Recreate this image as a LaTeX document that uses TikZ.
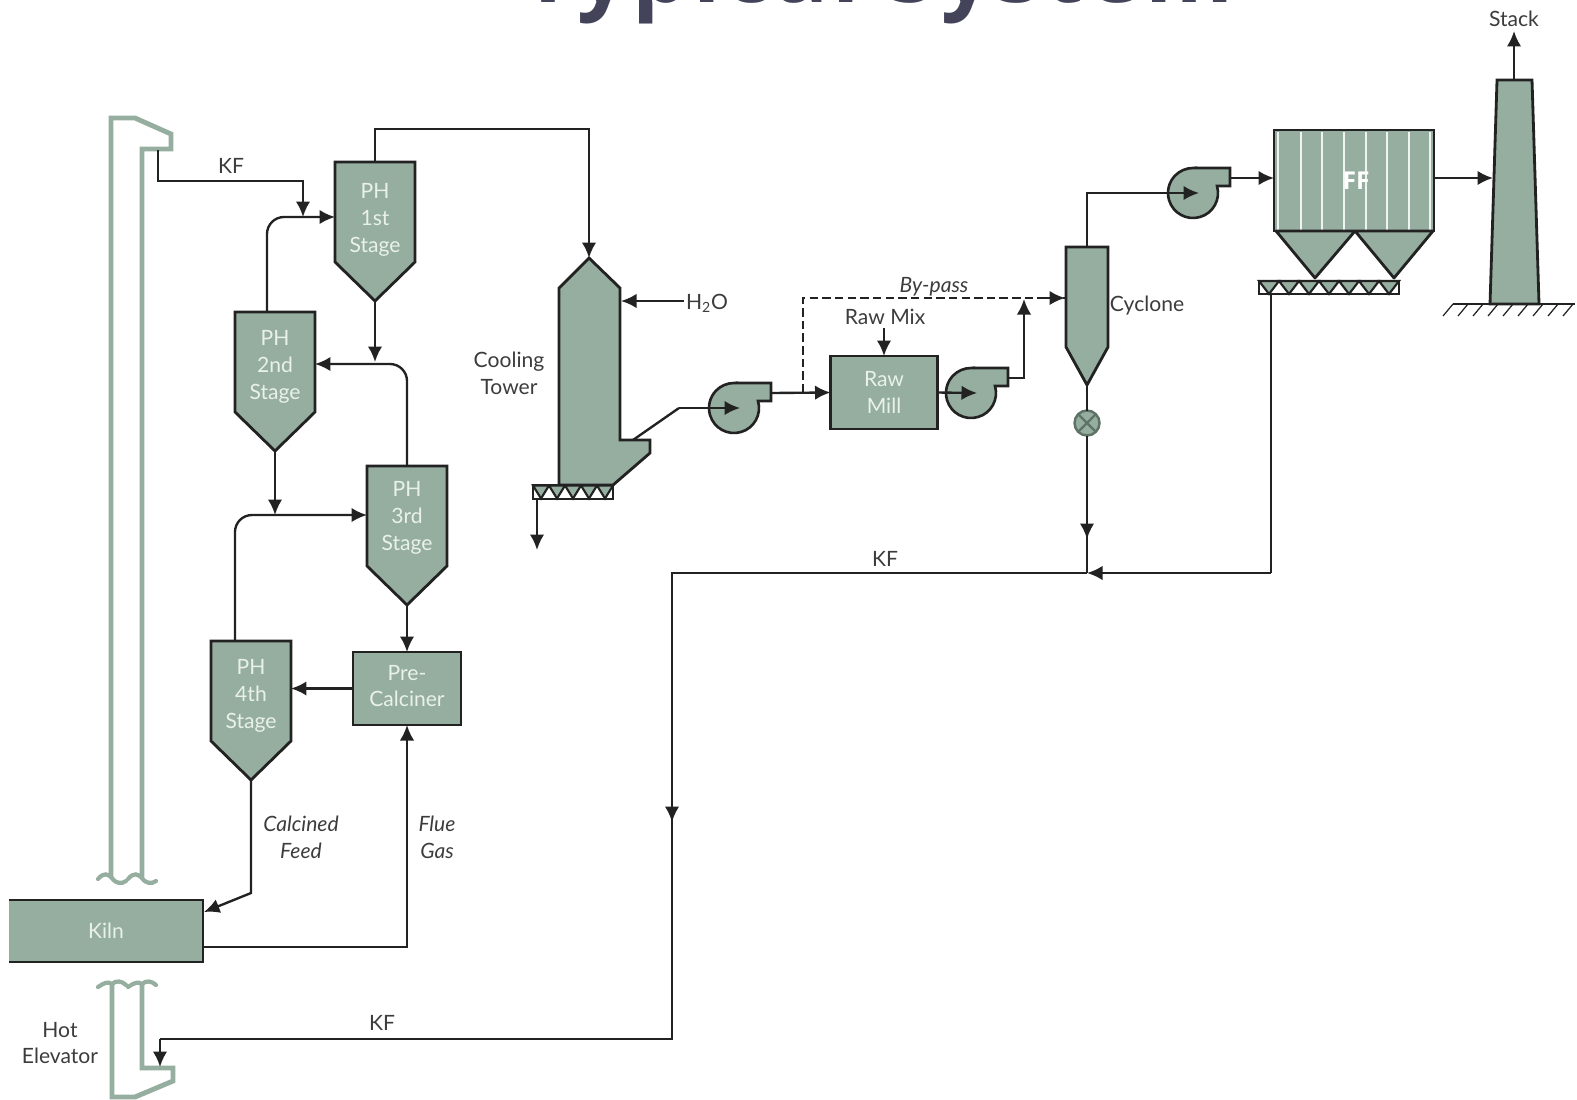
\documentclass[tikz,border=0pt]{standalone}
\usepackage{fontspec}
\setmainfont{Lato}
\newfontfamily\titlefont[LetterSpace=4.6]{Open Sans}
\newfontfamily\fflabelfont{Open Sans}
\usepackage{xcolor}
\usepackage{tikz}
\usetikzlibrary{arrows.meta,positioning,calc}
\definecolor{unitgreen}{HTML}{95AE9F}
\definecolor{linedark}{HTML}{222222}
\definecolor{valveedge}{HTML}{5F7268}
\definecolor{titleink}{HTML}{43445A}
\definecolor{labelink}{HTML}{3C3C3C}
\definecolor{unittext}{HTML}{E9F1EA}
\tikzset{
  flow/.style={line width=1.35pt,draw=linedark},
  unit/.style={line width=1.6pt,draw=linedark,fill=unitgreen,line join=miter},
  duct/.style={line width=2.8pt,draw=unitgreen,line join=miter},
  curl/.style={line width=2.4pt,draw=unitgreen,line cap=round},
  lbl/.style={text=labelink,align=center,font=\fontsize{12}{15.3}\selectfont,inner sep=0pt},
  unittxt/.style={text=unittext,align=center,font=\fontsize{12}{15.3}\selectfont,inner sep=0pt},
  hopbox/.style={minimum width=1.6cm,inner sep=0pt,outer sep=0pt},
  boxunit/.style={unit,unittxt,outer sep=0pt},
  screw/.style={line width=1.4pt,draw=linedark,fill=white,inner sep=0pt,outer sep=0pt},
  pics/fan/.style={code={
    \draw[unit,line width=1.5pt] (0,-25) -- (37,-25) -- (37,-7) -- (24,-7)
      arc[start angle=-16.26,end angle=270,radius=25] -- cycle;
    \coordinate (-hub) at (6,0);
    \coordinate (-out) at (37,-15);
  }},
}
% name, centre x, top y, half height of the node, text
\newcommand{\hopper}[5]{
  \draw[unit] (#2-40,#3) -- (#2+40,#3) -- (#2+40,#3+100) -- (#2,#3+139) -- (#2-40,#3+100) -- cycle;
  \node[hopbox,minimum height=#4*0.04cm,label={[unittxt,yshift=-0.06cm]center:{#5}}] (#1) at (#2,#3+#4) {};
  \coordinate (#1tip) at (#2,#3+139);
}
% name, centre x, centre y, width, teeth
\newcommand{\conveyor}[5]{
  \node[screw,minimum width=#4*0.02cm,minimum height=0.27cm] (#1) at (#2,#3) {};
  \foreach \k in {1,...,#5}{
    \draw[line width=1.2pt,draw=linedark,fill=unitgreen]
      (#2-#4/2+#4/#5*\k-#4/#5,#3-6.5) -- (#2-#4/2+#4/#5*\k-#4/#5/2,#3+6.5) -- (#2-#4/2+#4/#5*\k,#3-6.5) -- cycle;
  }
}
\begin{document}
\begin{tikzpicture}[>={Latex[length=3.1mm,width=2.9mm]},x=0.02cm,y=-0.02cm]
  \path[use as bounding box,clip] (0,0) rectangle (1577,1099);
  \node[anchor=base,text=titleink,inner sep=0pt,font=\titlefont\bfseries\fontsize{51}{51}\selectfont] (title) at (878,2) {Typical System};

  % hot elevator
  \draw[duct] (111,877) -- (111,118) -- (135,118) -- (171,134) -- (171,149) -- (142,149) -- (142,877);
  \draw[duct] (112,984) -- (112,1097) -- (135,1097) -- (173,1081) -- (173,1068) -- (142,1068) -- (142,984);
  \draw[curl] (98,879) .. controls (104,872) and (108,874) .. (112,878) .. controls (116,884) and (122,884) .. (126,881);
  \draw[curl] (128,879) .. controls (134,872) and (138,874) .. (142,878) .. controls (146,884) and (152,884) .. (156,881);
  \draw[curl] (98,987) .. controls (104,983) and (108,981) .. (112,984) .. controls (116,980) and (122,981) .. (126,985);
  \draw[curl] (128,987) .. controls (134,983) and (138,981) .. (142,984) .. controls (146,980) and (152,981) .. (156,985);
  \coordinate (elevtop) at (158,150);
  \coordinate (elevbot) at (160,1067);

  \hopper{ph1}{375}{162}{55}{PH\\1st\\Stage}
  \hopper{ph2}{275}{312}{52}{PH\\2nd\\Stage}
  \hopper{ph3}{407}{466}{49}{PH\\3rd\\Stage}
  \hopper{ph4}{251}{641}{52}{PH\\4th\\Stage}
  \node[boxunit,minimum width=2.16cm,minimum height=1.46cm] (precalc) at (407,688.5) {};
  \node[unittxt] (precalctxt) at (407,686) {Pre-\\Calciner};
  \node[fill=unitgreen,minimum width=3.88cm,minimum height=1.24cm,unittxt,outer sep=0pt] (kiln) at (106,931) {Kiln};
  \draw[unit,fill=none] (kiln.north west) -- (kiln.north east) -- (kiln.south east) -- (kiln.south west);

  % cooling tower
  \draw[unit] (559,485) -- (559,288) -- (589,258) -- (620,288) -- (620,440) -- (650,440) -- (650,453) -- (613,485) -- cycle;
  \conveyor{convtower}{573}{492}{80}{5}
  \coordinate (towertop) at (589,258);
  \coordinate (towerside) at (621,301);
  \coordinate (towerout) at (633,440);
  \coordinate (towerbend) at (679,408);

  \pic (fana) at (734,408) {fan};
  \pic (fanb) at (971,393) {fan};
  \pic (fanc) at (1193,193) {fan};
  \node[boxunit,minimum width=2.14cm,minimum height=1.46cm] (rawmill) at (884,392.5) {Raw\\Mill};

  % cyclone and rotary valve
  \draw[unit] (1066,247) -- (1108,247) -- (1108,347) -- (1087,385) -- (1066,347) -- cycle;
  \coordinate (cyctop) at (1087,247);
  \coordinate (cycwest) at (1065,298);
  \coordinate (cyctip) at (1087,385);
  \node[circle,draw=valveedge,fill=unitgreen,line width=1.4pt,minimum size=0.5cm,inner sep=0pt,outer sep=0pt] (valve) at (1087,423) {};
  \draw[valveedge,line width=1.3pt] (valve.45) -- (valve.225) (valve.135) -- (valve.315);

  % fabric filter
  \node[unit,minimum width=3.2cm,minimum height=2.02cm,inner sep=0pt,outer sep=0pt] (ff) at (1354,180.5) {};
  \foreach \xline in {1278,1301,1322,1344,1366,1387,1409,1430}{
    \draw[white!85!unitgreen,line width=0.8pt] (\xline,132) -- (\xline,230);
  }
  \node[text=white,inner sep=0pt,font=\fflabelfont\bfseries\fontsize{14}{14}\selectfont] (fflabel) at (1356,181) {FF};
  \draw[unit,line join=round] (1276,231) -- (1315,278) -- (1355,231) -- (1394,278) -- (1433,231) -- cycle;
  \conveyor{convff}{1329}{287.5}{140}{7}

  % stack
  \draw[unit] (1497,80) -- (1532,80) -- (1539,304) -- (1490,304) -- cycle;
  \coordinate (stacktop) at (1514,80);
  \coordinate (stackwest) at (1493,178);
  \coordinate (stackout) at (1514,31);
  \coordinate (groundl) at (1453,304);
  \coordinate (groundr) at (1575,304);
  \draw[line width=1pt,draw=linedark] (groundl) -- (groundr);
  \foreach \xh in {1453,1468,1483,1498,1513,1528,1543,1558,1573}{
    \draw[line width=0.7pt,draw=linedark] (\xh,304) -- (\xh-10,316);
  }

  % connectors, preheater tower
  \coordinate (kfa) at (303,217);
  \coordinate (kfb) at (303,181);
  \coordinate (ph1drop) at (375,362);
  \coordinate (ph2drop) at (275,515);
  \coordinate (ph4bend) at (251,893);
  \coordinate (kilnin) at ($(kiln.north east)+(1,12)$);
  \coordinate (kilnout) at ($(kiln.south east)+(0,-15)$);
  \draw[flow,->] (elevtop) |- (kfb) -- (kfa);
  \draw[flow,->,rounded corners=0.34cm] ($(ph2.north)+(-8,0)$) |- (ph1.west);
  \draw[flow,->] (ph1.north) -- ++(0,-33) -| (towertop);
  \draw[flow,->] (ph1tip) -- (ph1drop);
  \draw[flow,->,rounded corners=0.34cm] (ph3.north) |- (ph2.east);
  \draw[flow,->] (ph2tip) -- (ph2drop);
  \draw[flow,->,rounded corners=0.34cm] ($(ph4.north)+(-16,0)$) |- (ph3.west);
  \draw[flow,->] (ph3tip) -- (precalc.north);
  \draw[flow,->] (precalc.west) -- (ph4.east |- precalc.west);
  \draw[flow,->] (ph4tip) -- (ph4bend) -- (kilnin);
  \draw[flow,->] (kilnout) -| (precalc.south);

  % connectors, gas path
  \coordinate (h2oin) at (684,301);
  \coordinate (dustout) at ($(convtower.south west)+(4,0)$);
  \coordinate (dustend) at (537,550);
  \draw[flow,->] (h2oin) -- (towerside);
  \draw[flow,->] (dustout) -- (dustend);
  \draw[flow] (towerout) -- (towerbend);
  \draw[flow,->] (towerbend) -- (fana-hub);
  \draw[flow,->] (fana-out) -- (rawmill.west);
  \coordinate (bypass) at (803,392.5);
  \coordinate (bypasstop) at (803,298);
  \draw[flow,dash pattern=on 4.8pt off 2.4pt] (bypass) -- (bypasstop) -- (cycwest);
  \draw[flow,->] (1045,298) -- (cycwest);
  \coordinate (rawmixin) at (884,328);
  \draw[flow,->] (rawmixin) -- (rawmill.north);
  \draw[flow,->] (rawmill.east) -- (fanb-hub);
  \coordinate (fanbup) at (1024,299);
  \draw[flow,->] (fanb-out) -| (fanbup);
  \draw[flow,->] (cyctop) |- (fanc-hub);
  \draw[flow,->] (fanc-out) -- (ff.west |- fanc-out);
  \draw[flow,->] (ff.east |- stackwest) -- (stackwest);
  \draw[flow,->] (stacktop) -- (stackout);

  % connectors, kiln feed return
  \coordinate (dustff) at ($(convff.south west)+(12,0)$);
  \coordinate (ffcorner) at (1271,573);
  \coordinate (join) at (1087,573);
  \coordinate (kfcorner) at (672,573);
  \coordinate (kfmid) at (672,822);
  \coordinate (kfbottom) at (672,1039);
  \coordinate (kfdrop) at (160,1039);
  \coordinate (valvemid) at (1087,539);
  \draw[flow] (cyctip) -- (valve.north);
  \draw[flow] (valve.south) -- (join);
  \draw[flow,->] (valve.south) -- (valvemid);
  \draw[flow] (dustff) -- (ffcorner);
  \draw[flow,->] (ffcorner) -- (join);
  \draw[flow] (join) -- (kfcorner) -- (kfbottom) -- (kfdrop);
  \draw[flow,->] (kfcorner) -- (kfmid);
  \draw[flow,->] (kfdrop) -- (elevbot);

  % labels
  \node[lbl] (kftop) at (231,166) {KF};
  \node[lbl] (kfmidlabel) at (885,559) {KF};
  \node[lbl] (kflow) at (382,1023) {KF};
  \node[lbl] (stacklabel) at (1514,19) {Stack};
  \node[lbl] (coolinglabel) at (509,373) {Cooling\\Tower};
  \node[lbl] (h2olabel) at (707,303) {H\textsubscript{2}O};
  \node[lbl,font=\fontsize{12}{15.3}\itshape] (bypasslabel) at (934,287) {By-pass};
  \node[lbl] (rawmixlabel) at (885,317) {Raw Mix};
  \node[lbl] (cyclonelabel) at (1147,306) {Cyclone};
  \node[lbl,font=\fontsize{12}{15.3}\itshape] (calcinedlabel) at (301,837) {Calcined\\Feed};
  \node[lbl,font=\fontsize{12}{15.3}\itshape] (fluelabel) at (437,837) {Flue\\Gas};
  \node[lbl] (elevlabel) at (60,1043) {Hot\\Elevator};
\end{tikzpicture}
\end{document}
